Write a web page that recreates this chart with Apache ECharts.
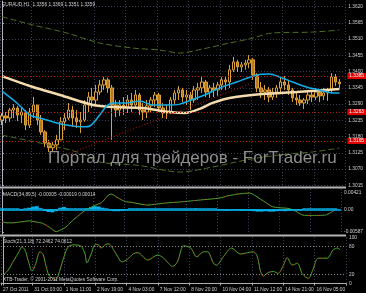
<!DOCTYPE html>
<html><head><meta charset="utf-8">
<script src="https://cdn.jsdelivr.net/npm/echarts@6/dist/echarts.min.js"></script>
<style>html,body{margin:0;padding:0;background:#000;}#c{width:366px;height:293px;}</style>
</head><body><div id="c"></div>
<script>
// ---- price bars (4-hour steps) ----
const opens = [1.3236,1.3250,1.3243,1.3270,1.3277,1.3253,1.3263,1.3219,1.3263,1.3287,
1.3236,1.3196,1.3158,1.3142,1.3152,1.3169,1.3230,1.3243,1.3270,1.3243,
1.3230,1.3236,1.3287,1.3314,1.3304,1.3331,1.3355,1.3372,1.3345,1.3287,
1.3270,1.3287,1.3277,1.3304,1.3287,1.3321,1.3270,1.3263,1.3284,1.3304,
1.3321,1.3277,1.3260,1.3263,1.3304,1.3328,1.3338,1.3314,1.3321,1.3304,
1.3338,1.3345,1.3365,1.3331,1.3345,1.3338,1.3355,1.3372,1.3365,1.3406,
1.3433,1.3416,1.3423,1.3429,1.3440,1.3389,1.3345,1.3331,1.3338,1.3314,
1.3331,1.3345,1.3365,1.3355,1.3338,1.3311,1.3304,1.3294,1.3304,1.3321,
1.3314,1.3331,1.3318,1.3328,1.3338,1.3382,1.3365];
const closes = [1.3250,1.3243,1.3270,1.3277,1.3253,1.3263,1.3219,1.3263,1.3287,1.3236,
1.3196,1.3158,1.3142,1.3152,1.3169,1.3230,1.3243,1.3270,1.3243,1.3230,
1.3236,1.3287,1.3314,1.3304,1.3331,1.3355,1.3372,1.3345,1.3287,1.3270,
1.3287,1.3277,1.3304,1.3287,1.3321,1.3270,1.3263,1.3284,1.3304,1.3321,
1.3277,1.3260,1.3263,1.3304,1.3328,1.3338,1.3314,1.3321,1.3304,1.3338,
1.3345,1.3365,1.3331,1.3345,1.3338,1.3355,1.3372,1.3365,1.3406,1.3433,
1.3416,1.3423,1.3429,1.3440,1.3389,1.3345,1.3331,1.3338,1.3314,1.3331,
1.3345,1.3365,1.3355,1.3338,1.3311,1.3304,1.3294,1.3304,1.3321,1.3314,
1.3331,1.3318,1.3328,1.3338,1.3382,1.3365,1.3359];
const lows = [1.3219,1.3226,1.3230,1.3243,1.3233,1.3226,1.3202,1.3209,1.3243,1.3219,
1.3186,1.3145,1.3128,1.3128,1.3135,1.3169,1.3202,1.3236,1.3213,1.3209,
1.3192,1.3230,1.3263,1.3277,1.3287,1.3321,1.3338,1.3328,1.3169,1.3246,
1.3250,1.3253,1.3260,1.3263,1.3277,1.3253,1.3236,1.3243,1.3263,1.3280,
1.3263,1.3243,1.3240,1.3257,1.3290,1.3304,1.3297,1.3287,1.3270,1.3294,
1.3304,1.3328,1.3314,1.3311,1.3314,1.3318,1.3338,1.3338,1.3345,1.3399,
1.3399,1.3399,1.3406,1.3412,1.3372,1.3331,1.3311,1.3304,1.3297,1.3304,
1.3311,1.3328,1.3338,1.3321,1.3297,1.3287,1.3284,1.3273,1.3290,1.3297,
1.3304,1.3297,1.3304,1.3301,1.3331,1.3351,1.3345];
const highs = [1.3260,1.3263,1.3277,1.3290,1.3284,1.3277,1.3270,1.3277,1.3314,1.3287,
1.3253,1.3202,1.3169,1.3162,1.3186,1.3246,1.3260,1.3294,1.3284,1.3270,
1.3263,1.3304,1.3331,1.3345,1.3355,1.3372,1.3382,1.3379,1.3355,1.3304,
1.3304,1.3314,1.3321,1.3328,1.3338,1.3328,1.3294,1.3304,1.3314,1.3331,
1.3328,1.3294,1.3287,1.3314,1.3338,1.3351,1.3345,1.3338,1.3331,1.3351,
1.3362,1.3382,1.3372,1.3355,1.3362,1.3365,1.3382,1.3385,1.3423,1.3450,
1.3440,1.3433,1.3440,1.3456,1.3446,1.3395,1.3365,1.3355,1.3348,1.3345,
1.3355,1.3379,1.3385,1.3372,1.3345,1.3331,1.3321,1.3311,1.3331,1.3338,
1.3345,1.3338,1.3345,1.3345,1.3395,1.3392,1.3375];

// ---- moving averages / envelopes (bar index, value) ----
const wheatIdx = [0,7.9,14.8,23.2,28.3,35.9,42.8,46.6,50.4,53.7,58.0,66.4,75.1,86.0];
const wheatVal = [1.3385,1.3348,1.3321,1.3287,1.3280,1.3277,1.3263,1.3260,1.3274,1.3294,1.3311,1.3324,1.3331,1.3341];
const blueIdx = [0,3.8,7.1,9.7,14.0,16.5,20.6,22.4,24.9,26.7,28.3,31.8,35.1,38.4,42.0,45.3,49.6,51.7,55.5,59.8,64.9,68.2,70.7,74.1,77.6,80.9,84.2,86.0];
const blueVal = [1.3334,1.3294,1.3253,1.3243,1.3226,1.3219,1.3213,1.3216,1.3253,1.3284,1.3294,1.3294,1.3301,1.3287,1.3287,1.3290,1.3311,1.3321,1.3345,1.3365,1.3389,1.3392,1.3382,1.3365,1.3348,1.3338,1.3328,1.3328];
const upperIdx = [0,7.9,16.5,24.9,33.3,40.2,45.3,51.2,58.0,63.1,69.0,79.1,86.0];
const upperVal = [1.3586,1.3558,1.3531,1.3497,1.3480,1.3473,1.3463,1.3477,1.3497,1.3511,1.3531,1.3534,1.3541];
const lowerIdx = [0,9.7,19.9,24.9,35.1,45.3,53.7,62.3,70.7,79.1,86.0];
const lowerVal = [1.3185,1.3158,1.3125,1.3094,1.3082,1.3060,1.3077,1.3101,1.3118,1.3128,1.3141];
const trendIdx = [16.3,63.1];
const trendVal = [1.3118,1.3358];
const levels = [1.3385,1.3263,1.3165];
const lastPrice = 1.3359;

// ---- MACD ----
const macdIdx = [0,1.3,2.8,4.6,7.1,8.9,10.4,12.2,14.0,14.8,16.5,17.8,19.9,21.6,24.2,25.7,27.5,28.3,30.0,31.8,33.3,37.7,42.0,46.1,51.2,56.2,58.0,60.6,63.9,66.9,69.7,71.5,74.1,75.8,77.6,79.9,83.5,86.0];
const macdVal = [-0.0032,-0.0035,-0.0035,-0.0033,-0.0030,-0.0033,-0.0036,-0.0046,-0.0058,-0.0055,-0.0046,-0.0033,-0.0015,-0.0002,0.0011,0.0017,0.0037,0.0039,0.0029,0.0020,0.0018,0.0011,0.0016,0.0019,0.0024,0.0029,0.0034,0.0039,0.0042,0.0025,0.0007,0.0004,0.0002,-0.0005,-0.0015,-0.0016,-0.0015,-0.0001];
const macdHist = [0.0001,0.0001,0.0002,0.0001,0.0000,-0.0001,0.0001,0.0004,0.0007,0.0008,
0.0003,-0.0004,-0.0007,-0.0008,-0.0005,0.0004,0.0006,0.0003,0.0001,0.0000,
0.0001,0.0002,0.0003,0.0006,0.0008,0.0007,0.0004,0.0001,-0.0003,-0.0005,
-0.0005,-0.0004,-0.0002,0.0000,0.0001,0.0001,0.0002,0.0001,0.0001,0.0002,
0.0001,0.0000,0.0001,0.0002,0.0002,0.0001,0.0002,0.0002,0.0001,0.0002,
0.0003,0.0002,0.0001,0.0002,0.0001,0.0000,-0.0002,-0.0003,-0.0004,-0.0003,
-0.0002,-0.0003,-0.0004,-0.0003,-0.0004,-0.0005,-0.0006,-0.0006,-0.0005,-0.0006,
-0.0006,-0.0005,-0.0004,-0.0005,-0.0004,-0.0003,-0.0002,-0.0001,0.0000,0.0001,
0.0001,0.0002,0.0001,0.0002,0.0001,0.0002,0.0001];
const macdTicks = [0.00421,0,-0.00587];

// ---- Stochastic ----
const stochIdx = [0,1.3,2.8,4.1,4.8,5.6,6.4,7.4,8.4,9.4,10.2,11.0,11.7,12.7,13.5,14.0,14.8,16.0,16.8,18.1,19.9,20.9,21.4,22.4,23.4,24.2,25.0,26.2,27.0,28.3,29.3,30.3,31.8,33.3,34.4,36.9,39.5,41.0,43.3,44.5,46.1,47.9,49.4,51.2,52.2,53.7,54.5,56.2,58.3,60.6,62.4,63.9,64.9,65.7,66.4,67.7,69.0,70.2,71.5,72.5,73.8,75.1,76.3,77.9,79.1,80.4,82.7,84.2,85.3,86.0];
const stochVal = [18,29,51,69,80,73,51,27,44,69,64,37,18,11,8,15,37,69,81,84,81,65,45,62,84,85,77,85,86,72,58,47,53,65,67,51,62,55,37,47,82,77,58,69,69,44,40,58,77,64,67,69,58,26,16,24,26,22,39,56,40,44,22,11,31,55,55,73,77,73];
const stochTicks = [0,20,80,100];

// ---- axis labels ----
const priceTicks = [1.3015,1.3070,1.3125,1.3180,1.3235,1.3290,1.3345,1.3400,1.3455,1.3510,1.3565,1.3620];
const timeLabels = ['27 Oct 2011','31 Oct 03:00','1 Nov 11:00','2 Nov 19:00','4 Nov 03:00','7 Nov 12:00','8 Nov 20:00','10 Nov 04:00','11 Nov 12:00','14 Nov 21:00','16 Nov 05:00'];
const headerMain = 'EURAUD,H1  1.3356 1.3369 1.3351 1.3359';
const headerMacd = 'MACD(34,89,5) -0.00005 -0.00019 0.00014';
const headerStoch = 'Stoch(21,3,18) 72.2462 74.0612';
const copyright = 'XTB-Trader, \u00a9 2001-2011 MetaQuotes Software Corp.';
const watermark = 'Портал для трейдеров - ForTrader.ru';

// ---- build ----
const NCAT = 88, STEP = 8;
const cats = Array.from({length: NCAT}, (_, i) => (i % STEP === 0 && timeLabels[i / STEP]) ? timeLabels[i / STEP] : '');
const candles = opens.map((o, i) => [o, closes[i], lows[i], highs[i]]);
const pairs = (xs, ys) => xs.map((x, i) => [x, ys[i]]);
const FONT = '"Liberation Sans", Arial, sans-serif';
const FS = 4.8;
const TXT = '#d0d0d0';
const GRIDC = '#3a4058';
const everyStep = (idx) => idx % STEP === 0;

function catAxis(g, showLabels) {
  return {
    type: 'category', gridIndex: g, data: cats, boundaryGap: true,
    axisLine: {show: showLabels, lineStyle: {color: '#b0b0b0', width: 1}},
    axisTick: {show: showLabels, interval: everyStep, length: 2, lineStyle: {color: '#b0b0b0'}},
    axisLabel: {show: showLabels, interval: everyStep, align: 'left', margin: 2, fontSize: FS, fontFamily: FONT, color: TXT},
    splitLine: {show: true, interval: everyStep, lineStyle: {color: GRIDC, type: [1, 2], width: 1}}
  };
}
function valX(g) {
  return {type: 'value', gridIndex: g, min: -0.5, max: NCAT - 0.5, show: false};
}
const option = {
  backgroundColor: '#000',
  animation: false,
  grid: [
    {left: 0, right: 20, top: 1, height: 185},
    {left: 0, right: 20, top: 189, height: 45},
    {left: 0, right: 20, top: 237, height: 48}
  ],
  xAxis: [catAxis(0, false), valX(0), catAxis(1, false), valX(1), catAxis(2, true), valX(2)],
  yAxis: [
    {type: 'value', gridIndex: 0, position: 'right', min: 1.30127, max: 1.36393,
      axisLine: {show: true, lineStyle: {color: '#b0b0b0'}},
      axisTick: {show: true, customValues: priceTicks, length: 2, lineStyle: {color: '#b0b0b0'}},
      axisLabel: {customValues: priceTicks, formatter: v => v.toFixed(4), fontSize: FS, fontFamily: FONT, color: TXT, margin: 3},
      splitLine: {show: true, lineStyle: {color: GRIDC, type: [1, 2]}}},
    {type: 'value', gridIndex: 1, position: 'right', min: -0.00639, max: 0.00524,
      axisLine: {show: true, lineStyle: {color: '#b0b0b0'}},
      axisTick: {show: true, customValues: macdTicks, length: 2, lineStyle: {color: '#b0b0b0'}},
      axisLabel: {customValues: macdTicks, formatter: v => v === 0 ? '0.00' : v.toFixed(5), fontSize: FS, fontFamily: FONT, color: TXT, margin: 3},
      splitLine: {show: false}},
    {type: 'value', gridIndex: 2, position: 'right', min: -3.3, max: 101.1,
      axisLine: {show: true, lineStyle: {color: '#b0b0b0'}},
      axisTick: {show: true, customValues: stochTicks, length: 2, lineStyle: {color: '#b0b0b0'}},
      axisLabel: {customValues: stochTicks, formatter: v => String(v), fontSize: FS, fontFamily: FONT, color: TXT, margin: 3},
      splitLine: {show: false}}
  ],
  series: [
    {type: 'candlestick', xAxisIndex: 0, yAxisIndex: 0, data: candles, barWidth: 3,
      itemStyle: {color: '#000000', color0: '#b87a1a', borderColor: '#dca038', borderColor0: '#dca038', borderWidth: 1}},
    {type: 'line', xAxisIndex: 1, yAxisIndex: 0, data: pairs(upperIdx, upperVal), smooth: 0.3, showSymbol: false,
      lineStyle: {color: '#4e6e22', width: 1, type: [6, 3]}},
    {type: 'line', xAxisIndex: 1, yAxisIndex: 0, data: pairs(lowerIdx, lowerVal), smooth: 0.3, showSymbol: false,
      lineStyle: {color: '#4e6e22', width: 1, type: [6, 3]},
      markLine: {silent: true, symbol: 'none', animation: false, precision: 6,
        lineStyle: {color: '#c01010', type: [1, 2], width: 1},
        label: {show: false},
        data: [[{coord: [trendIdx[0], trendVal[0]]}, {coord: [trendIdx[1], trendVal[1]]}]]}},
    {type: 'line', xAxisIndex: 1, yAxisIndex: 0, data: pairs(wheatIdx, wheatVal), smooth: 0.3, showSymbol: false,
      lineStyle: {color: '#f5dcae', width: 2.5}},
    {type: 'line', xAxisIndex: 1, yAxisIndex: 0, data: pairs(blueIdx, blueVal), smooth: 0.3, showSymbol: false,
      lineStyle: {color: '#12aee8', width: 1.5},
      markLine: {silent: true, symbol: 'none', animation: false, precision: 6,
        lineStyle: {color: '#c01010', type: [1, 2], width: 1},
        label: {show: true, position: 'end', distance: 2, formatter: p => Number(p.value).toFixed(4),
          fontSize: FS, fontFamily: FONT, color: '#ffffff', backgroundColor: '#e00000', padding: [1, 2, 0, 2]},
        data: levels.map(v => ({yAxis: v})).concat([{yAxis: lastPrice, lineStyle: {opacity: 0},
          label: {color: '#000000', backgroundColor: '#ffffff'}}])}},
    {type: 'bar', xAxisIndex: 2, yAxisIndex: 1, data: macdHist, barCategoryGap: '0%', barMinHeight: 1,
      itemStyle: {color: '#00b4f0'},
      markLine: {silent: true, symbol: 'none', animation: false, precision: 6, label: {show: false},
        lineStyle: {color: '#00b4f0', width: 1.5, type: 'solid'}, data: [{yAxis: 0}]}},
    {type: 'line', xAxisIndex: 3, yAxisIndex: 1, data: pairs(macdIdx, macdVal), smooth: 0.2, showSymbol: false,
      lineStyle: {color: '#3cae2c', width: 1}},
    {type: 'line', xAxisIndex: 3, yAxisIndex: 1, data: pairs(macdIdx, macdVal), smooth: 0.2, showSymbol: false,
      lineStyle: {color: '#d02020', width: 1, type: [1, 4]}},
    {type: 'line', xAxisIndex: 5, yAxisIndex: 2, data: pairs(stochIdx, stochVal), smooth: 0.3, showSymbol: false,
      lineStyle: {color: '#3cae2c', width: 1},
      markLine: {silent: true, symbol: 'none', animation: false, precision: 6, label: {show: false},
        lineStyle: {color: '#909090', width: 1, type: [1, 2]}, data: [{yAxis: 20}, {yAxis: 80}]}},
    {type: 'line', xAxisIndex: 5, yAxisIndex: 2, data: pairs(stochIdx, stochVal), smooth: 0.3, showSymbol: false,
      lineStyle: {color: '#d02020', width: 1, type: [1, 4]}}
  ],
  graphic: [
    {type: 'rect', silent: true, z: 100, shape: {x: 0, y: 186.5, width: 346, height: 2}, style: {fill: '#b4b4b4'}},
    {type: 'rect', silent: true, z: 100, shape: {x: 0, y: 234.5, width: 346, height: 2}, style: {fill: '#b4b4b4'}},
    {type: 'text', silent: true, z: 100, x: 2, y: 2, style: {text: headerMain, fill: TXT, font: FS + 'px ' + FONT, verticalAlign: 'top'}},
    {type: 'text', silent: true, z: 100, x: 3, y: 192, style: {text: headerMacd, fill: TXT, font: FS + 'px ' + FONT, verticalAlign: 'top'}},
    {type: 'text', silent: true, z: 100, x: 3, y: 239, style: {text: headerStoch, fill: TXT, font: FS + 'px ' + FONT, verticalAlign: 'top'}},
    {type: 'text', silent: true, z: 100, x: 3, y: 277, style: {text: copyright, fill: TXT, font: FS + 'px ' + FONT, verticalAlign: 'top'}},
    {type: 'text', silent: true, z: 90, x: 48, y: 158, style: {text: watermark, fill: '#8e8e8e', font: '17px ' + FONT, verticalAlign: 'middle'}}
  ]
};
const chart = echarts.init(document.getElementById('c'));
chart.setOption(option);
</script>
</body></html>
